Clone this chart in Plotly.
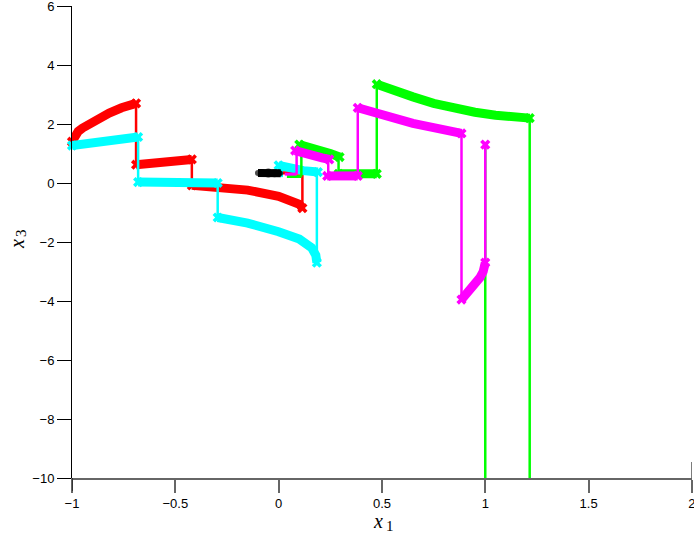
import plotly.graph_objects as go

# ---------------- data (x1, x3) ----------------
# red trajectory
red_flows_x = [
    [-1.0, -0.985, -0.97, -0.95, -0.93, -0.9, -0.86, -0.82, -0.76, -0.69],
    [-0.69, -0.42],
    [-0.42, -0.3, -0.15, 0.0, 0.07, 0.1, 0.115],
    [0.02, 0.13],
    [0.02, 0.13],
]
red_flows_y = [
    [1.4, 1.6, 1.75, 1.86, 1.95, 2.07, 2.22, 2.37, 2.55, 2.7],
    [0.62, 0.8],
    [-0.08, -0.13, -0.24, -0.45, -0.6, -0.72, -0.85],
    [0.44, 0.42],
    [0.34, 0.33],
]
red_flow_thin = [False, False, False, True, True]
red_jumps_x = [-0.69, -0.42, 0.115]
red_jumps_y0 = [2.7, 0.8, -0.85]
red_jumps_y1 = [0.62, -0.08, 0.36]

# cyan trajectory
cyan_flows_x = [
    [-1.0, -0.68],
    [-0.68, -0.5, -0.295],
    [-0.295, -0.15, 0.0, 0.1, 0.16, 0.18, 0.185],
    [0.0, 0.05, 0.12, 0.19],
]
cyan_flows_y = [
    [1.27, 1.56],
    [0.03, 0.02, 0.0],
    [-1.17, -1.36, -1.65, -1.9, -2.2, -2.45, -2.7],
    [0.6, 0.5, 0.42, 0.37],
]
cyan_jumps_x = [-0.68, -0.295, 0.185, 0.015]
cyan_jumps_y0 = [1.56, 0.0, -2.7, 0.55]
cyan_jumps_y1 = [0.03, -1.17, 0.37, 0.2]

# green trajectory
green_flows_x = [
    [0.04, 0.11],
    [0.1, 0.15, 0.2, 0.25, 0.295],
    [0.29, 0.475],
    [0.475, 0.55, 0.65, 0.75, 0.85, 0.95, 1.05, 1.15, 1.215],
]
green_flows_y = [
    [0.22, 0.22],
    [1.3, 1.17, 1.1, 1.0, 0.88],
    [0.31, 0.31],
    [3.35, 3.15, 2.92, 2.7, 2.52, 2.4, 2.3, 2.24, 2.2],
]
green_flow_thin = [True, False, False, False]
green_jumps_x = [0.11, 0.29, 0.475, 1.215, 1.0]
green_jumps_y0 = [0.22, 0.88, 0.31, 2.2, 1.3]
green_jumps_y1 = [1.3, 0.31, 3.35, -12.0, -12.0]

# magenta trajectory
magenta_flows_x = [
    [0.03, 0.087],
    [0.08, 0.12, 0.165, 0.21, 0.245],
    [0.235, 0.3, 0.383],
    [0.383, 0.45, 0.55, 0.65, 0.75, 0.85, 0.885],
    [0.885, 0.92, 0.95, 0.975, 0.99, 1.0],
]
magenta_flows_y = [
    [0.3, 0.3],
    [1.1, 1.0, 0.92, 0.85, 0.8],
    [0.24, 0.24, 0.24],
    [2.55, 2.4, 2.18, 2.02, 1.88, 1.74, 1.68],
    [-3.95, -3.7, -3.45, -3.2, -3.0, -2.7],
]
magenta_flow_thin = [True, False, False, False, False]
magenta_jumps_x = [0.087, 0.24, 0.383, 0.885, 1.0]
magenta_jumps_y0 = [0.3, 0.8, 0.24, 1.68, -2.7]
magenta_jumps_y1 = [1.1, 0.24, 2.55, -3.95, 1.3]
magenta_end_x = [1.0]
magenta_end_y = [1.3]

# black trajectory
black_x = [-0.1, -0.08, -0.05, -0.02, 0.0, 0.01]
black_y = [0.34, 0.34, 0.34, 0.33, 0.33, 0.33]

x_ticks = [-1, -0.5, 0, 0.5, 1, 1.5, 2]
x_ticktext = ["\u22121", "\u22120.5", "0", "0.5", "1", "1.5", "2"]
y_ticks = [-10, -8, -6, -4, -2, 0, 2, 4, 6]
y_ticktext = ["\u221210", "\u22128", "\u22126", "\u22124", "\u22122",
              "0", "2", "4", "6"]

FLOW_W = 9
JUMP_W = 2.5

fig = go.Figure()


def add_traj(color, fx, fy, jx, jy0, jy1, thin=None):
    for k, (xs, ys) in enumerate(zip(fx, fy)):
        is_thin = thin[k] if thin else False
        w = 3 if is_thin else FLOW_W
        fig.add_trace(go.Scatter(
            x=xs, y=ys, mode="lines", line=dict(color=color, width=w),
            showlegend=False, hoverinfo="skip"))
        if not is_thin:
            fig.add_trace(go.Scatter(
                x=[xs[0], xs[-1]], y=[ys[0], ys[-1]], mode="markers",
                marker=dict(symbol="x", size=9, color=color,
                            line=dict(width=0)),
                showlegend=False, hoverinfo="skip", cliponaxis=False))
    for x, a, b in zip(jx, jy0, jy1):
        fig.add_trace(go.Scatter(
            x=[x, x], y=[a, b], mode="lines",
            line=dict(color=color, width=JUMP_W),
            showlegend=False, hoverinfo="skip"))


add_traj("#FF0000", red_flows_x, red_flows_y, red_jumps_x, red_jumps_y0,
         red_jumps_y1, red_flow_thin)
add_traj("#00FFFF", cyan_flows_x, cyan_flows_y, cyan_jumps_x, cyan_jumps_y0,
         cyan_jumps_y1)
add_traj("#00FF00", green_flows_x, green_flows_y, green_jumps_x,
         green_jumps_y0, green_jumps_y1, green_flow_thin)
add_traj("#FF00FF", magenta_flows_x, magenta_flows_y, magenta_jumps_x,
         magenta_jumps_y0, magenta_jumps_y1, magenta_flow_thin)
fig.add_trace(go.Scatter(
    x=magenta_end_x, y=magenta_end_y, mode="markers",
    marker=dict(symbol="x", size=9, color="#FF00FF", line=dict(width=0)),
    showlegend=False, hoverinfo="skip"))
fig.add_trace(go.Scatter(
    x=black_x, y=black_y, mode="lines+markers",
    line=dict(color="black", width=8),
    marker=dict(symbol="circle", size=[6, 8, 9, 8, 7, 5], color="black",
                line=dict(width=0, color="black")),
    showlegend=False, hoverinfo="skip"))

serif = "Liberation Serif, DejaVu Serif, serif"
fig.update_layout(
    width=694, height=535,
    margin=dict(l=72, r=2, t=6, b=57, autoexpand=False),
    paper_bgcolor="white", plot_bgcolor="white",
    font=dict(family="Liberation Sans, Arial, sans-serif", size=13,
              color="black"),
    xaxis=dict(
        range=[-1, 2.0005], tickvals=x_ticks, ticktext=x_ticktext,
        showgrid=False, zeroline=False, showline=True, linecolor="#666666",
        linewidth=1.5, ticks="outside", ticklen=13, tickcolor="#666666",
        tickwidth=1.5, automargin=False, ticklabeloverflow="allow",
    ),
    yaxis=dict(
        range=[-10, 6.0005], tickvals=y_ticks, ticktext=y_ticktext,
        showgrid=False, zeroline=False, showline=True, linecolor="black",
        linewidth=1, ticks="outside", ticklen=14, tickcolor="black",
        tickwidth=1, automargin=False, ticklabeloverflow="allow",
    ),
    shapes=[
        dict(type="line", xref="x", yref="paper", x0=-1, x1=-1,
             y0=0, y1=-13 / 472, line=dict(color="black", width=1)),
        dict(type="line", xref="x", yref="paper", x0=2, x1=2,
             y0=0, y1=16 / 472, line=dict(color="#666666", width=1.5)),
    ],
    annotations=[
        dict(text="<i>x</i>", xref="paper", yref="paper", x=0.5, y=0,
             xanchor="center", yanchor="middle", xshift=-4, yshift=-43,
             showarrow=False, font=dict(family=serif, size=20)),
        dict(text="1", xref="paper", yref="paper", x=0.5, y=0,
             xanchor="center", yanchor="middle", xshift=8, yshift=-48,
             showarrow=False, font=dict(family=serif, size=15)),
        dict(text="<i>x</i>", xref="paper", yref="paper", x=0, y=0.5,
             xanchor="center", yanchor="middle", xshift=-55, yshift=-2,
             textangle=-90, showarrow=False,
             font=dict(family=serif, size=20)),
        dict(text="3", xref="paper", yref="paper", x=0, y=0.5,
             xanchor="center", yanchor="middle", xshift=-51, yshift=9,
             textangle=-90, showarrow=False,
             font=dict(family=serif, size=15)),
    ],
)

fig.write_html("out.html", config={"displayModeBar": False},
               post_script="document.body.style.margin='0px';")
